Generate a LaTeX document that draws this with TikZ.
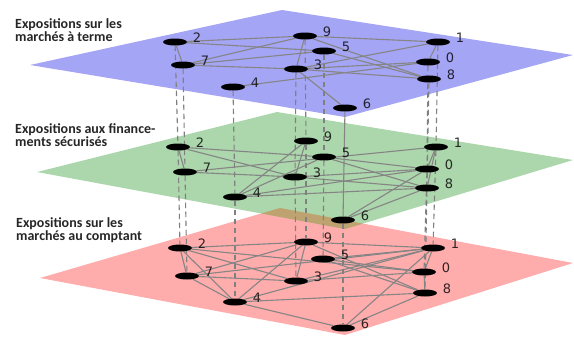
\documentclass[tikz,border=0pt]{standalone}
\usepackage{fontspec}
\newfontfamily\ttlfont{Carlito}
\newfontfamily\numfont{DejaVu Sans}
\usetikzlibrary{shapes.geometric}
\definecolor{planeblue}{RGB}{165,165,245}
\definecolor{planegreen}{RGB}{172,214,172}
\definecolor{planered}{RGB}{255,172,172}
\definecolor{planebrown}{RGB}{190,162,112}
\pgfdeclarelayer{planes}
\pgfdeclarelayer{links}
\pgfsetlayers{planes,links,main}
\begin{document}
\begin{tikzpicture}[x=1pt,y=-1pt,
  dot/.style={ellipse,fill=black,minimum width=24pt,minimum height=7pt,inner sep=0pt},
  num/.style={font=\numfont\fontsize{13}{13}\selectfont,text=black,text opacity=0.8,inner sep=0pt},
  ttl/.style={font=\ttlfont\bfseries\fontsize{14}{14}\selectfont,anchor=base west,inner sep=0pt,text=black!85},
  edge/.style={draw=black!48,line width=1.1pt},
  vdash/.style={draw=black!50,line width=1.1pt,dash pattern=on 5.5pt off 3.5pt},
  vsolid/.style={draw=black!48,line width=1.1pt}]
\useasboundingbox (0,0) rectangle (574,338);
\begin{pgfonlayer}{planes}
\fill[planered] (40,278) -- (280,208) -- (573,263) -- (345,335) -- cycle;
\fill[planegreen] (37,172) -- (277,112) -- (573,160) -- (345,229) -- cycle;
\begin{scope}
\clip (40,278) -- (280,208) -- (573,263) -- (345,335) -- cycle;
\fill[planebrown] (37,172) -- (277,112) -- (573,160) -- (345,229) -- cycle;
\end{scope}
\fill[planeblue] (30,65) -- (282,10) -- (573,55) -- (345,117) -- cycle;
\end{pgfonlayer}
% titles
\node[ttl] (ta1) at (15,28.5) {Expositions sur les};
\node[ttl] (ta2) at (15,41.5) {marchés à terme};
\node[ttl] (tb1) at (15,133) {Expositions aux finance-};
\node[ttl] (tb2) at (15,146.5) {ments sécurisés};
\node[ttl] (tc1) at (16,227.5) {Expositions sur les};
\node[ttl] (tc2) at (16,240.5) {marchés au comptant};
% nodes
\foreach \n/\x/\y in {0/428/62,1/438/42,2/175/42,3/296/69,4/233/87,5/324/51,6/345/108,7/183/65,8/429/79,9/305/36}{
  \node[dot] (t\n) at (\x,\y) {};
  \node[num] (tl\n) at (\x+22,\y-4) {\n};
}
\foreach \n/\x/\y in {0/427/169,1/436/147,2/178/147,3/295/177,4/235/197,5/324/157,6/343/220,7/185/172,8/427/188,9/306/141}{
  \node[dot] (m\n) at (\x,\y) {};
  \node[num] (ml\n) at (\x+22,\y-4) {\n};
}
\foreach \n/\x/\y in {0/424/272,1/433/248,2/180/248,3/296/281,4/235/302,5/323/259,6/343/328,7/187/276,8/425/293,9/306/242}{
  \node[dot] (b\n) at (\x,\y) {};
  \node[num] (bl\n) at (\x+22,\y-4) {\n};
}
\begin{pgfonlayer}{links}
\foreach \a/\b in {2/7,2/9,2/5,7/9,7/5,7/3,4/0,9/1,9/8,9/3,5/8,3/1,3/0,3/8,3/6,1/0}
  \draw[edge] (t\a) -- (t\b);
\foreach \a/\b in {2/7,2/3,7/1,7/3,4/9,4/5,4/0,4/8,9/3,5/0,5/8,3/0,3/8,6/0,6/8,1/0,1/8,2/5}
  \draw[edge] (m\a) -- (m\b);
\foreach \a/\b in {2/7,2/9,2/3,2/4,2/0,7/9,7/1,7/3,7/4,4/9,4/1,4/8,4/6,9/1,9/8,9/3,5/1,5/0,5/8,3/1,3/0,6/1,6/8,1/0,0/8}
  \draw[edge] (b\a) -- (b\b);
\foreach \n in {0,1,2,3,4,5,7,8,9}
  \draw[vdash] (t\n) -- (m\n);
\draw[vsolid] (t6) -- (m6);
\foreach \n in {0,...,9}
  \draw[vdash] (m\n) -- (b\n);
\end{pgfonlayer}
\end{tikzpicture}
\end{document}
